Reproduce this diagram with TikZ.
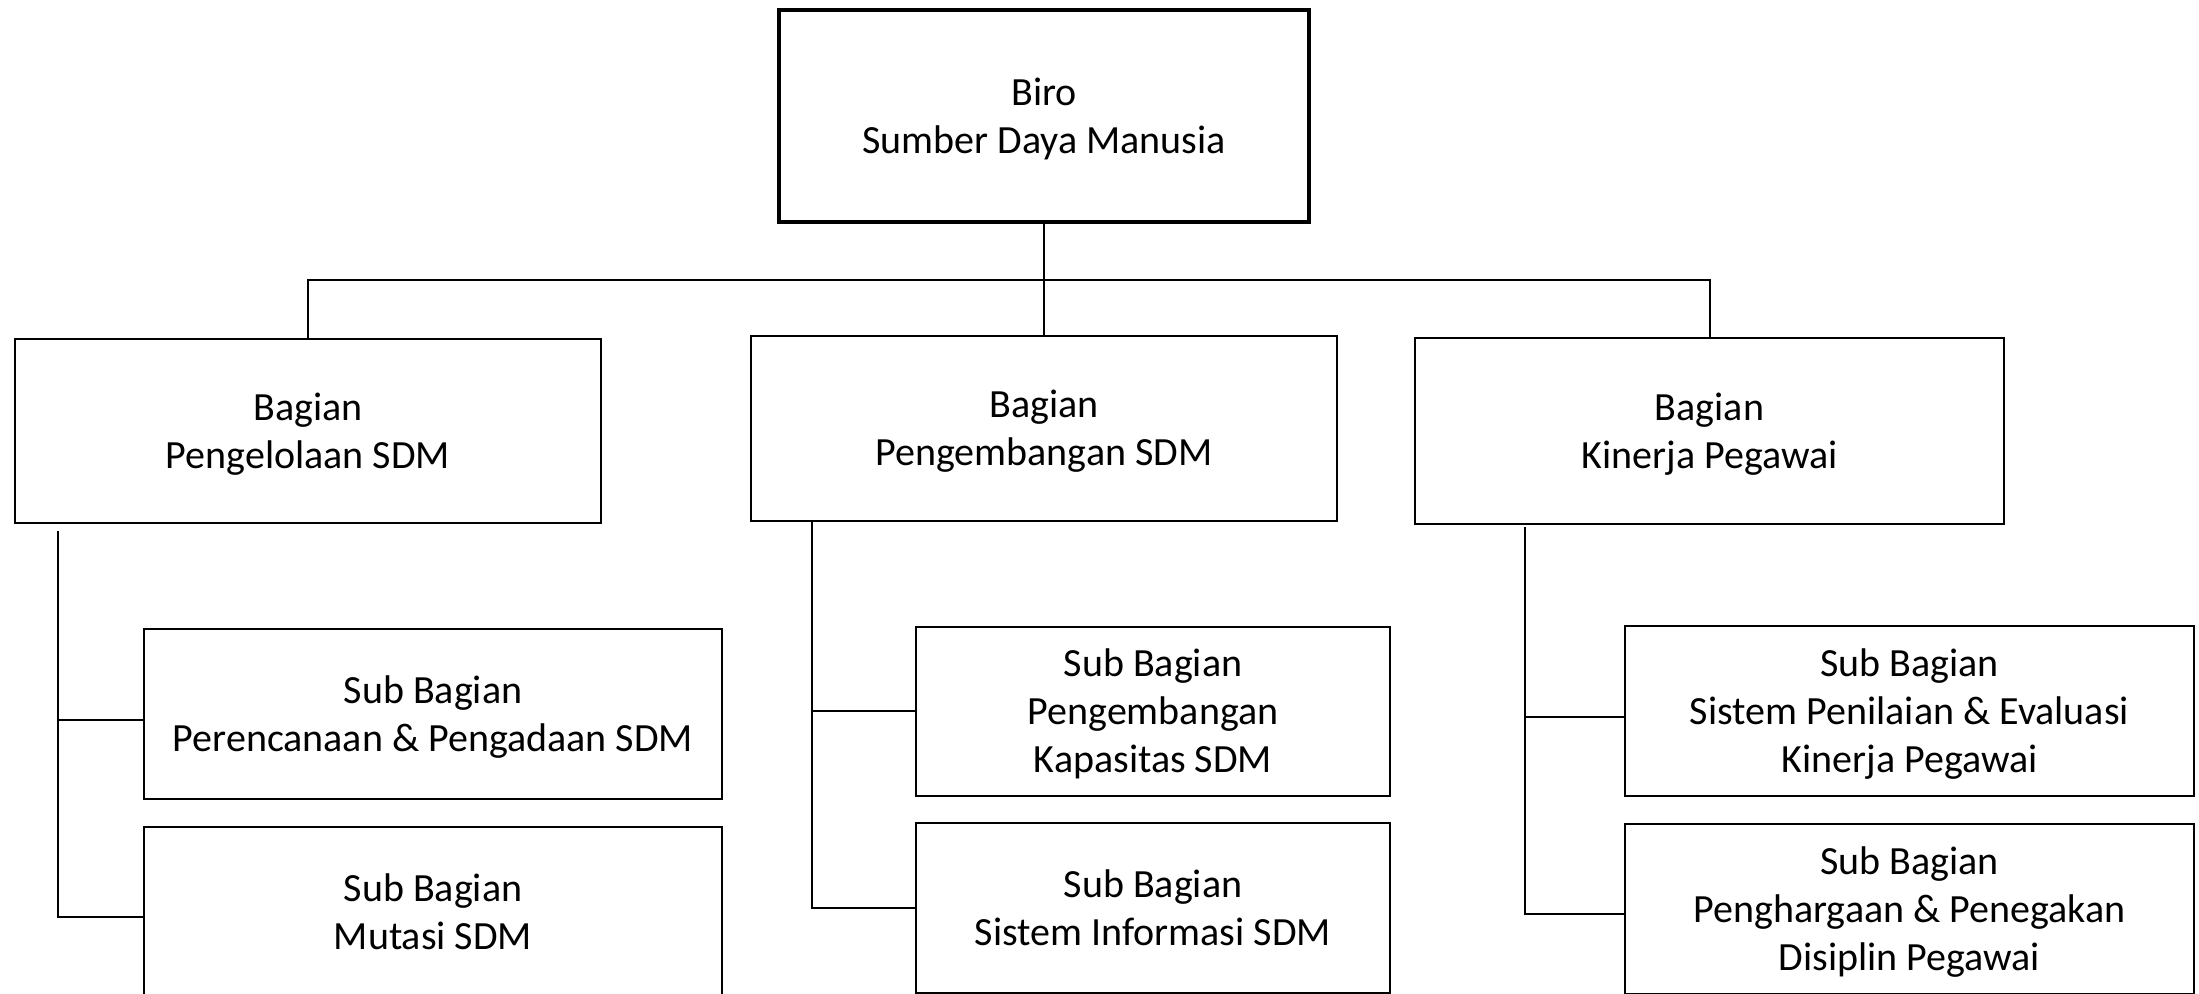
\documentclass[tikz,border=0pt]{standalone}
\usepackage{fontspec}
\setmainfont{Carlito}
\newcommand{\hs}{\rule{0pt}{19.2pt}}
\newcommand{\ds}{\rule[-6pt]{0pt}{6pt}}
\begin{document}
\begin{tikzpicture}[x=0.5pt,y=-0.5pt,
  box/.style={draw=black, line width=1.2pt, rectangle, align=center, inner sep=0pt,
    font=\fontsize{20pt}{24pt}\selectfont},
  topbox/.style={box, line width=2pt},
  link/.style={draw=black, line width=1pt}]
\useasboundingbox (0,0) rectangle (2199,993);
\clip (0,0) rectangle (2199,993);
% top
\node[topbox, minimum width=265pt, minimum height=106pt] (top) at (1044,116) {\hs Biro\\Sumber Daya Manusia\ds};
% bagian
\node[box, minimum width=293pt, minimum height=92pt] (L) at (308,431) {\hs Bagian\\Pengelolaan SDM\ds};
\node[box, minimum width=293pt, minimum height=92.5pt] (M) at (1044,428.5) {\hs Bagian\\Pengembangan SDM\ds};
\node[box, minimum width=294.5pt, minimum height=93pt] (R) at (1709.5,431) {\hs Bagian\\Kinerja Pegawai\ds};
% sub bagian
\node[box, minimum width=289pt, minimum height=85pt] (L1) at (433,714) {\hs Sub Bagian\\Perencanaan \& Pengadaan SDM\ds};
\node[box, minimum width=289pt, minimum height=85pt] (L2) at (433,912) {\hs Sub Bagian\\Mutasi SDM\ds};
\node[box, minimum width=237pt, minimum height=84.5pt] (M1) at (1153,711.5) {\hs Sub Bagian\\Pengembangan\\Kapasitas SDM\ds};
\node[box, minimum width=237pt, minimum height=85pt] (M2) at (1153,908) {\hs Sub Bagian\\Sistem Informasi SDM\ds};
\node[box, minimum width=284.5pt, minimum height=85pt] (R1) at (1909.5,711) {\hs Sub Bagian\\Sistem Penilaian \& Evaluasi\\Kinerja Pegawai\ds};
\node[box, minimum width=284.5pt, minimum height=85pt] (R2) at (1909.5,909) {\hs Sub Bagian\\Penghargaan \& Penegakan\\Disiplin Pegawai\ds};
% top connectors
\coordinate (bus) at (1044,280);
\draw[link] (top.south) -- (M.north);
\draw[link] (L.north) |- (bus) -| (R.north);
% left branch
\coordinate (lt) at (57.5,531);
\coordinate (l1) at (57.5,720);
\coordinate (l2) at (57.5,917);
\draw[link] (lt) -- (l2) -- (l2 -| L2.west);
\draw[link] (l1) -- (l1 -| L1.west);
% middle branch
\coordinate (mt) at (812,521);
\coordinate (m1) at (812,711);
\coordinate (m2) at (812,908);
\draw[link] (mt) -- (m2) -- (m2 -| M2.west);
\draw[link] (m1) -- (m1 -| M1.west);
% right branch
\coordinate (rt) at (1524.5,527);
\coordinate (r1) at (1524.5,717);
\coordinate (r2) at (1524.5,914);
\draw[link] (rt) -- (r2) -- (r2 -| R2.west);
\draw[link] (r1) -- (r1 -| R1.west);
\end{tikzpicture}
\end{document}
